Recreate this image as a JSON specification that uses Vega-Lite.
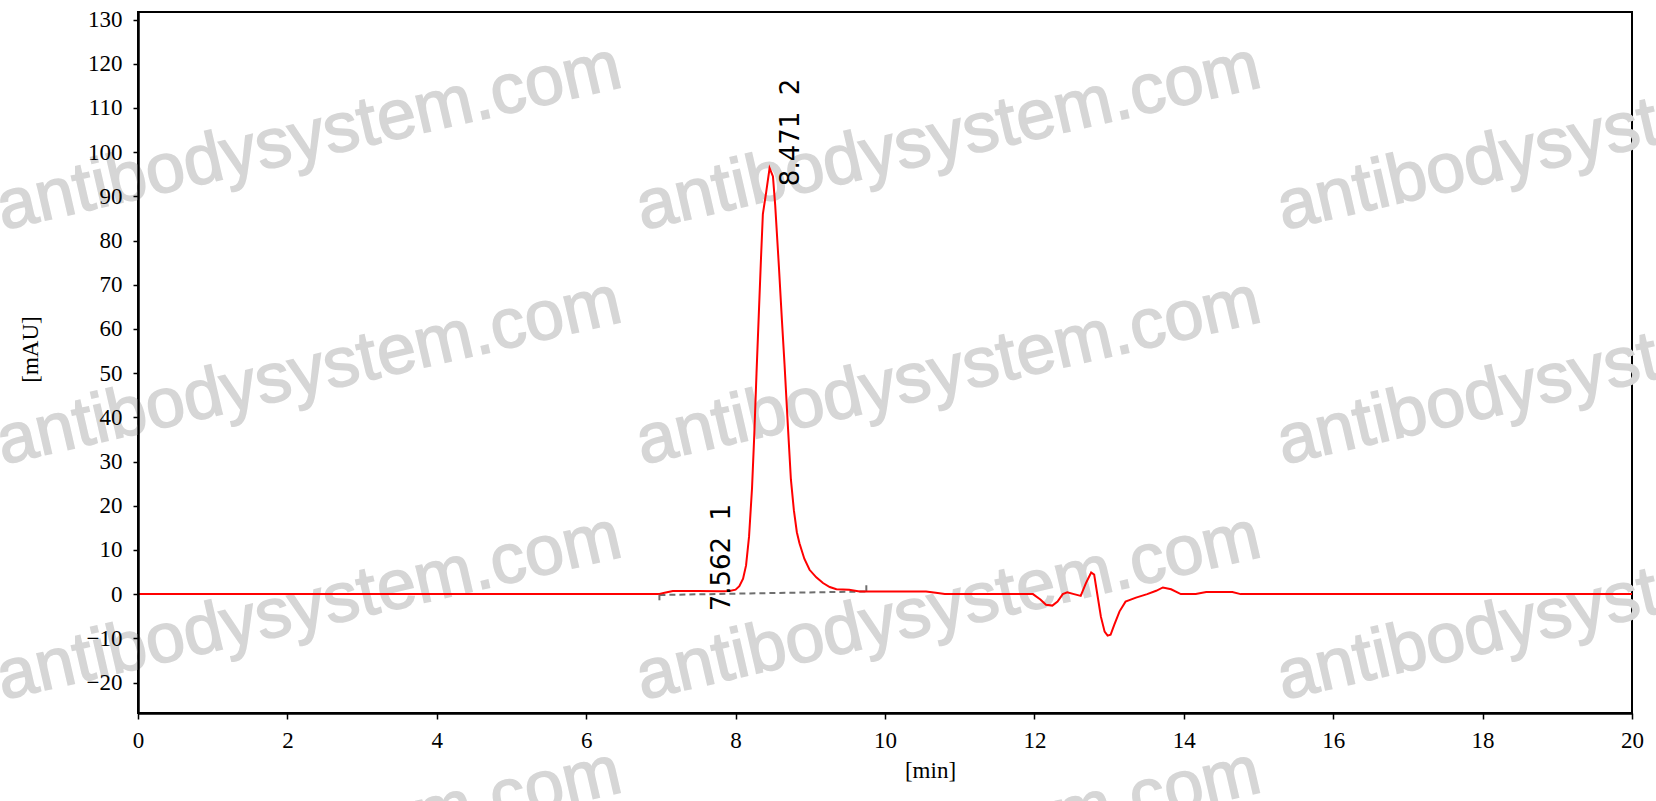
{
  "$schema": "https://vega.github.io/schema/vega-lite/v6.json",
  "width": 1494,
  "height": 701,
  "autosize": "none",
  "padding": {"left": 138, "top": 12, "right": 24, "bottom": 88},
  "background": "white",
  "config": {
    "view": {"stroke": "#000", "strokeWidth": 2},
    "axis": {
      "grid": false,
      "domainColor": "#000",
      "domainWidth": 2.5,
      "tickColor": "#000",
      "tickWidth": 1.5,
      "labelFont": "Liberation Serif",
      "labelFontSize": 23,
      "labelColor": "#000",
      "labelFlush": false,
      "labelOverlap": false,
      "titleFont": "Liberation Serif",
      "titleFontSize": 23,
      "titleFontWeight": "normal",
      "titleColor": "#000"
    }
  },
  "encoding": {
    "x": {
      "field": "t",
      "type": "quantitative",
      "scale": {"domain": [0, 20], "nice": false, "zero": false},
      "axis": {
        "title": "[min]",
        "zindex": 1,
        "values": [0, 2, 4, 6, 8, 10, 12, 14, 16, 18, 20],
        "tickSize": 6,
        "labelPadding": 10,
        "titleX": 792,
        "titleY": 57,
        "titleBaseline": "middle"
      }
    },
    "y": {
      "field": "v",
      "type": "quantitative",
      "scale": {"domain": [-26.9, 131.7], "nice": false, "zero": false},
      "axis": {
        "title": "[mAU]",
        "zindex": 1,
        "values": [-20, -10, 0, 10, 20, 30, 40, 50, 60, 70, 80, 90, 100, 110, 120, 130],
        "tickSize": 5,
        "labelPadding": 11,
        "titleX": -108,
        "titleY": 337,
        "titleBaseline": "middle"
      }
    }
  },
  "layer": [
    {
      "data": {
        "values": [
          {"t": -1.81, "v": 82.4, "label": "antibodysystem.com"},
          {"t": 6.75, "v": 82.4, "label": "antibodysystem.com"},
          {"t": 15.33, "v": 82.4, "label": "antibodysystem.com"},
          {"t": -1.81, "v": 29.3, "label": "antibodysystem.com"},
          {"t": 6.75, "v": 29.3, "label": "antibodysystem.com"},
          {"t": 15.33, "v": 29.3, "label": "antibodysystem.com"},
          {"t": -1.81, "v": -23.9, "label": "antibodysystem.com"},
          {"t": 6.75, "v": -23.9, "label": "antibodysystem.com"},
          {"t": 15.33, "v": -23.9, "label": "antibodysystem.com"},
          {"t": -1.81, "v": -77.1, "label": "antibodysystem.com"},
          {"t": 6.75, "v": -77.1, "label": "antibodysystem.com"},
          {"t": 15.33, "v": -77.1, "label": "antibodysystem.com"}
        ]
      },
      "mark": {
        "type": "text",
        "font": "Liberation Sans",
        "fontSize": 70,
        "angle": -13,
        "align": "left",
        "baseline": "alphabetic",
        "color": "#d6d6d6",
        "stroke": "#d6d6d6",
        "strokeWidth": 1.6
      },
      "encoding": {"text": {"field": "label"}}
    },
    {
      "data": {"values": [{"t": 6.98, "v": -0.2, "t2": 9.75, "v2": 0.6}]},
      "mark": {"type": "rule", "color": "#6e6e6e", "strokeWidth": 2, "strokeDash": [6, 4]},
      "encoding": {"x2": {"field": "t2"}, "y2": {"field": "v2"}}
    },
    {
      "data": {"values": [{"t": 6.98, "v": 0.1, "v2": -1.4}, {"t": 9.75, "v": 0.6, "v2": 2.0}]},
      "mark": {"type": "rule", "color": "#6e6e6e", "strokeWidth": 2},
      "encoding": {"y2": {"field": "v2"}}
    },
    {
      "data": {
        "values": [
          {"t": 0, "v": 0},
          {"t": 6.95, "v": 0},
          {"t": 6.98, "v": 0.05},
          {"t": 7.05, "v": 0.3},
          {"t": 7.16, "v": 0.7},
          {"t": 7.5, "v": 0.7},
          {"t": 7.8, "v": 0.65},
          {"t": 7.92, "v": 0.7},
          {"t": 8.0, "v": 1.0},
          {"t": 8.05, "v": 1.8},
          {"t": 8.1, "v": 3.5},
          {"t": 8.14, "v": 6.5},
          {"t": 8.18, "v": 13},
          {"t": 8.22, "v": 24},
          {"t": 8.25, "v": 36},
          {"t": 8.28, "v": 50},
          {"t": 8.31, "v": 63},
          {"t": 8.34, "v": 76},
          {"t": 8.365, "v": 86},
          {"t": 8.41, "v": 91},
          {"t": 8.455, "v": 96.4},
          {"t": 8.5, "v": 94.5},
          {"t": 8.53, "v": 88},
          {"t": 8.58, "v": 74},
          {"t": 8.62, "v": 62},
          {"t": 8.655, "v": 52},
          {"t": 8.7, "v": 38},
          {"t": 8.74, "v": 26},
          {"t": 8.78, "v": 19},
          {"t": 8.82, "v": 14},
          {"t": 8.855, "v": 11.5},
          {"t": 8.92, "v": 8},
          {"t": 8.99, "v": 5.5},
          {"t": 9.08, "v": 3.8},
          {"t": 9.17, "v": 2.5},
          {"t": 9.26, "v": 1.6},
          {"t": 9.35, "v": 1.1},
          {"t": 9.52, "v": 1.0},
          {"t": 9.66, "v": 0.6},
          {"t": 10.55, "v": 0.6},
          {"t": 10.68, "v": 0.3},
          {"t": 10.8, "v": 0},
          {"t": 11.98, "v": 0},
          {"t": 12.08, "v": -1.2},
          {"t": 12.155, "v": -2.4},
          {"t": 12.24, "v": -2.6},
          {"t": 12.31, "v": -1.7},
          {"t": 12.38, "v": 0},
          {"t": 12.44, "v": 0.4},
          {"t": 12.53, "v": 0},
          {"t": 12.62, "v": -0.4},
          {"t": 12.69, "v": 2.5},
          {"t": 12.76, "v": 4.9},
          {"t": 12.8, "v": 4.4},
          {"t": 12.84, "v": 0.2},
          {"t": 12.89, "v": -5.1},
          {"t": 12.94, "v": -8.5},
          {"t": 12.98, "v": -9.4},
          {"t": 13.02, "v": -9.2},
          {"t": 13.07, "v": -6.9},
          {"t": 13.14, "v": -3.9},
          {"t": 13.22, "v": -1.7},
          {"t": 13.36, "v": -0.8},
          {"t": 13.51, "v": 0},
          {"t": 13.63, "v": 0.75},
          {"t": 13.72, "v": 1.5},
          {"t": 13.83, "v": 1.1},
          {"t": 13.96, "v": 0},
          {"t": 14.16, "v": 0},
          {"t": 14.3, "v": 0.45},
          {"t": 14.65, "v": 0.45},
          {"t": 14.76, "v": 0},
          {"t": 20, "v": 0}
        ]
      },
      "mark": {"type": "line", "color": "#ff0000", "strokeWidth": 2},
      "encoding": {}
    },
    {
      "data": {
        "values": [
          {"t": 8.843, "v": 92.3, "label": "8.471\u00a0\u00a02"},
          {"t": 7.93, "v": -3.9, "label": "7.562\u00a0\u00a01"}
        ]
      },
      "mark": {
        "type": "text",
        "font": "DejaVu Sans",
        "fontSize": 26,
        "angle": -90,
        "align": "left",
        "baseline": "alphabetic",
        "color": "#000"
      },
      "encoding": {"text": {"field": "label"}}
    }
  ]
}
